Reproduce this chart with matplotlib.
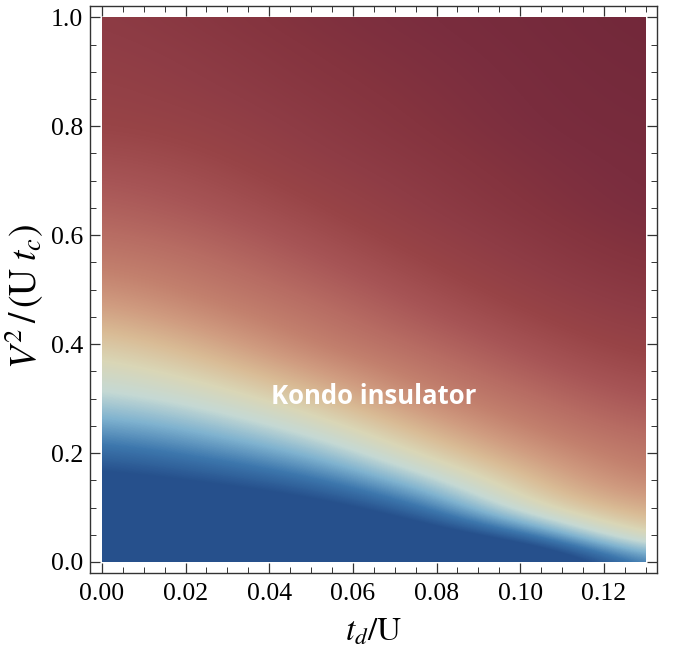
import numpy as np
import matplotlib
matplotlib.use("Agg")
import matplotlib.pyplot as plt
from matplotlib.colors import LinearSegmentedColormap
from matplotlib.ticker import MultipleLocator, FormatStrFormatter
from matplotlib.patches import Rectangle

plt.rcParams['font.family'] = ['Liberation Serif', 'DejaVu Serif']
plt.rcParams['mathtext.fontset'] = 'stix'

# colour stops (deep blue -> cream -> maroon)
cmap_colors = ['#26508c', '#3d77ad', '#7fb2cf', '#c5d9d4', '#dad6b6', '#d9bb95',
               '#d09c80', '#c3816e', '#b76c63', '#a75556', '#984447', '#8e3c45',
               '#85343f', '#7a2d3e', '#72283a']

# sample grid (t_d/U columns, V^2/(U t_c) rows)
x_grid = [0.0, 0.026, 0.052, 0.078, 0.104, 0.13]
y_grid = [0.00, 0.05, 0.10, 0.15, 0.20, 0.25, 0.30, 0.35, 0.40, 0.45, 0.50,
          0.55, 0.60, 0.65, 0.70, 0.75, 0.80, 0.85, 0.90, 0.95, 1.00]

# field values for each column (colour index scale 0..14)
z_x000 = [-3.4, -2.4, -1.4, -0.4, 0.6, 1.6, 2.65, 3.5, 4.35, 5.35, 6.3,
          7.1, 7.85, 8.4, 8.9, 9.45, 9.95, 10.25, 10.5, 10.75, 11.0]
z_x026 = [-3.1, -2.05, -1.0, 0.1, 1.2, 2.27, 3.35, 4.43, 5.5, 6.57, 7.33,
          7.89, 8.44, 9.0, 9.43, 9.87, 10.3, 10.74, 11.06, 11.35, 11.7]
z_x052 = [-3.2, -1.87, -0.53, 0.8, 2.13, 3.47, 4.75, 6.0, 7.12, 7.7, 8.3,
          8.88, 9.4, 9.9, 10.4, 10.9, 11.25, 11.56, 11.88, 12.15, 12.45]
z_x078 = [-2.6, -0.87, 0.87, 2.6, 4.25, 5.5, 6.75, 7.53, 8.2, 8.87, 9.42,
          9.95, 10.47, 11.0, 11.36, 11.71, 12.05, 12.29, 12.52, 12.76, 13.0]
z_x104 = [-2.15, 0.92, 4.0, 5.1, 6.2, 7.22, 7.96, 8.7, 9.35, 9.94, 10.53,
          11.1, 11.6, 12.06, 12.38, 12.69, 13.0, 13.13, 13.25, 13.38, 13.5]
z_x130 = [1.33, 4.5, 5.75, 7.0, 7.71, 8.43, 9.12, 9.75, 10.37, 11.0, 11.63,
          12.18, 12.64, 13.03, 13.17, 13.3, 13.44, 13.58, 13.72, 13.86, 14.0]

Z = np.column_stack([z_x000, z_x026, z_x052, z_x078, z_x104, z_x130])

cmap = LinearSegmentedColormap.from_list('thermo', cmap_colors, N=512)

fig = plt.figure(figsize=(6.76, 6.52), dpi=100)
ax = fig.add_axes([0.1331, 0.1212, 0.9719 - 0.1331, 0.9908 - 0.1212])

dx = x_grid[1] - x_grid[0]
dy = y_grid[1] - y_grid[0]
im = ax.imshow(Z, origin='lower', cmap=cmap, vmin=0, vmax=len(cmap_colors) - 1,
               extent=(x_grid[0] - dx / 2, x_grid[-1] + dx / 2,
                       y_grid[0] - dy / 2, y_grid[-1] + dy / 2),
               aspect='auto', interpolation='bicubic', interpolation_stage='data')
clip = Rectangle((x_grid[0], y_grid[0]), x_grid[-1] - x_grid[0], y_grid[-1] - y_grid[0],
                 transform=ax.transData)
im.set_clip_path(clip)

ax.set_xlim(-0.00285, 0.1327)
ax.set_ylim(-0.0202, 1.0207)

ax.xaxis.set_major_locator(MultipleLocator(0.02))
ax.xaxis.set_minor_locator(MultipleLocator(0.005))
ax.yaxis.set_major_locator(MultipleLocator(0.2))
ax.yaxis.set_minor_locator(MultipleLocator(0.05))
ax.xaxis.set_major_formatter(FormatStrFormatter('%.2f'))
ax.yaxis.set_major_formatter(FormatStrFormatter('%.1f'))

ax.tick_params(which='both', direction='in', top=True, right=True,
               colors='#333333', labelcolor='black', labelsize=18.5)
ax.tick_params(which='major', length=7, width=0.9)
ax.tick_params(axis='x', which='major', pad=7)
ax.tick_params(axis='y', which='major', pad=5)
ax.tick_params(which='minor', length=4, width=0.7)
for s in ax.spines.values():
    s.set_linewidth(1.0)
    s.set_color('#333333')

ax.set_xlabel(r'$t_d/\mathrm{U}$', fontsize=24, labelpad=9)
ax.set_ylabel(r'$V^2\,/\,(\mathrm{U}\;t_c)$', fontsize=27)
ax.yaxis.set_label_coords(-0.078, 0.487)

ax.text(0.065, 0.303, 'Kondo insulator', color='white', fontsize=18.5,
        fontweight='bold', family=['Open Sans', 'DejaVu Sans'],
        ha='center', va='center')

fig.savefig('out.png', dpi=100)
